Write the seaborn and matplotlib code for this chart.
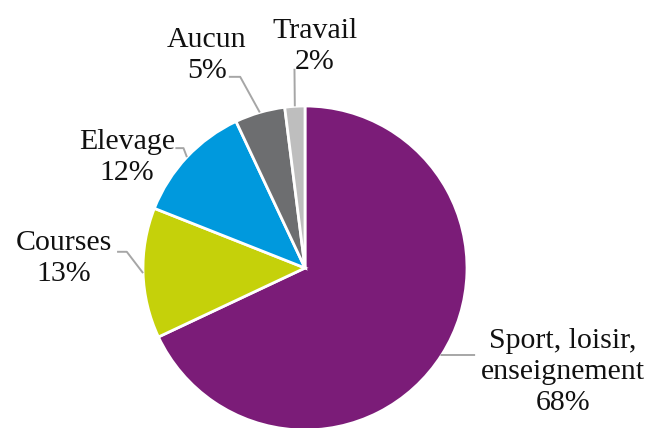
import numpy as np
import matplotlib
matplotlib.use('Agg')
import matplotlib.pyplot as plt
import seaborn as sns

sns.set_theme(style='white')
plt.rcParams['font.family'] = ['Liberation Serif', 'DejaVu Serif']

labels = ['Sport, loisir,\nenseignement', 'Courses', 'Elevage', 'Aucun', 'Travail']
values = [68, 13, 12, 5, 2]
colors = ['#7b1c78', '#c5d10a', '#0099dd', '#6d6e70', '#bebebe']

# label placement in pie units (radius = 1): elbow point, line end, text centre
elbows = [(0.84, -0.537), (-1.10, 0.10), (-0.75, 0.74), (-0.40, 1.18), (-0.065, 1.23)]
ends = [(1.05, -0.537), (-1.16, 0.10), (-0.80, 0.74), (-0.47, 1.18), (-0.065, 1.23)]
text_pos = [(1.59, -0.64), (-1.49, 0.06), (-1.10, 0.68), (-0.605, 1.31), (0.06, 1.37)]

fig = plt.figure(figsize=(6.5, 4.28), dpi=100)
r_px = 162
cx, cy = 305, 268
ax = fig.add_axes([(cx - r_px) / 650, (428 - cy - r_px) / 428, 2 * r_px / 650, 2 * r_px / 428])

wedges, _ = ax.pie(values, colors=colors, startangle=90, counterclock=False,
                   wedgeprops=dict(edgecolor='white', linewidth=2))
ax.set_xlim(-1, 1)
ax.set_ylim(-1, 1)
ax.set_aspect('equal')
ax.axis('off')

for w, lab, v, el, en, tp in zip(wedges, labels, values, elbows, ends, text_pos):
    mid = np.deg2rad((w.theta1 + w.theta2) / 2)
    ex, ey = np.cos(mid), np.sin(mid)
    ax.plot([ex, el[0], en[0]], [ey, el[1], en[1]], color='#a6a6a6', lw=1.4,
            clip_on=False, solid_capstyle='butt')
    ax.text(tp[0], tp[1], f'{lab}\n{v}%', ha='center', va='center',
            multialignment='center', fontsize=21.5, linespacing=1.25,
            color='#111111', clip_on=False)

fig.savefig('out.png', dpi=100)
